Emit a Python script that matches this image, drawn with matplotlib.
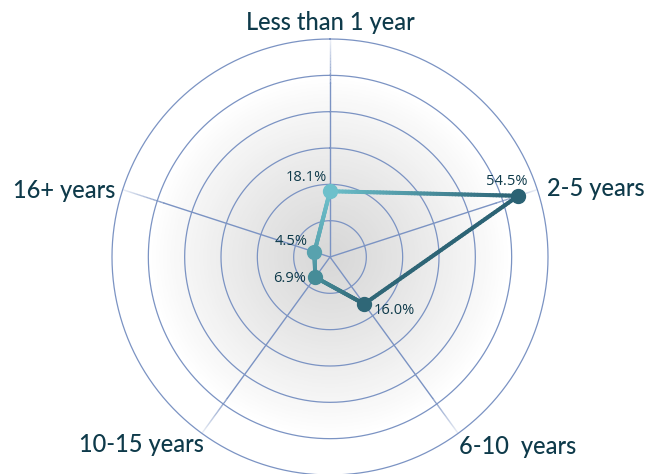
import numpy as np
import matplotlib
matplotlib.use("Agg")
import matplotlib.pyplot as plt
from matplotlib.collections import LineCollection
from matplotlib.colors import to_rgb

# ---- data ----
categories = ["Less than 1 year", "2-5 years", "6-10  years", "10-15 years", "16+ years"]
values = [18.1, 54.5, 16.0, 6.9, 4.5]
value_labels = ["18.1%", "54.5%", "16.0%", "6.9%", "4.5%"]
point_colors = ["#6dc0cb", "#2b6274", "#2f6777", "#468c98", "#58a2ae"]
ring_values = [10, 20, 30, 40, 50, 60]
r_max = 60

# ---- styles ----
grid_color = "#7b93c3"
text_color = "#0e3a4a"
cat_font = "Lato"
num_font = "Open Sans"

W, H = 649, 474
fig = plt.figure(figsize=(W / 100, H / 100), dpi=100)
fig.patch.set_facecolor("white")
cx, cy, R = 330, 257, 218
ax = fig.add_axes([(cx - R) / W, (H - cy - R) / H, 2 * R / W, 2 * R / H],
                  projection="polar")
ax.set_theta_zero_location("N")
ax.set_theta_direction(-1)
ax.set_ylim(0, r_max)
ax.set_axis_off()
ax.patch.set_alpha(0)

n = len(categories)
angles = np.arange(n) * 2 * np.pi / n

# radial gray background
th_bg = np.linspace(0, 2 * np.pi, 181)
r_bg = np.linspace(0, r_max, 121)
TH, RR = np.meshgrid(th_bg, r_bg)
g = 0.845 + 0.155 * np.clip(RR / 50.0, 0, 1) ** 1.2
ax.pcolormesh(TH, RR, g[:-1, :-1], cmap="gray", vmin=0, vmax=1,
              shading="flat", zorder=0, antialiased=False)

# rings
th_fine = np.linspace(0, 2 * np.pi, 721)
for rv in ring_values:
    ax.plot(th_fine, np.full_like(th_fine, rv), color=grid_color, lw=0.9,
            zorder=1, clip_on=False)

# spokes (solid inside, fading toward outer ring)
gc = np.array(to_rgb(grid_color))
for a in angles:
    ax.plot([a, a], [0, 48], color=grid_color, lw=1.0, zorder=1)
    rs = np.linspace(48, r_max, 30)
    segs = [[(a, rs[i]), (a, rs[i + 1])] for i in range(len(rs) - 1)]
    alphas = np.linspace(1, 0.15, len(segs))
    cols = [(*gc, al) for al in alphas]
    ax.add_collection(LineCollection(segs, colors=cols, lw=1.0, zorder=1))

# series line with per-segment gradient
xs = [v * np.sin(a) for v, a in zip(values, angles)]
ys = [v * np.cos(a) for v, a in zip(values, angles)]
segs, cols = [], []
steps = 60
for i in range(n):
    j = (i + 1) % n
    c0 = np.array(to_rgb(point_colors[i]))
    c1 = np.array(to_rgb(point_colors[j]))
    t = np.linspace(0, 1, steps + 1)
    px = xs[i] + (xs[j] - xs[i]) * t
    py = ys[i] + (ys[j] - ys[i]) * t
    pth = np.arctan2(px, py)
    pr = np.hypot(px, py)
    for k in range(steps):
        segs.append([(pth[k], pr[k]), (pth[k + 1], pr[k + 1])])
        tm = (k + 0.5) / steps
        cols.append(tuple(c0 + (c1 - c0) * tm))
ax.add_collection(LineCollection(segs, colors=cols, lw=2.9, zorder=3,
                                 capstyle="round", joinstyle="round"))

for a, v, c in zip(angles, values, point_colors):
    ax.plot([a], [v], "o", ms=10, color=c, mec=c, zorder=4)

# data labels (offsets in pixels)
label_offsets = [(-3, 14, "right"), (-12, 14, "center"), (10, -6, "left"),
                 (-9, -1, "right"), (-7, 10, "right")]
for a, v, lab, (dx, dy, ha) in zip(angles, values, value_labels, label_offsets):
    ax.annotate(lab, (a, v), xytext=(dx * 0.72, dy * 0.72), textcoords="offset points",
                ha=ha, va="center", fontsize=10.5, color=text_color,
                family=[num_font, "DejaVu Sans"], zorder=5)

# category labels, pixel offsets from the chart centre
cat_px = [(0, -235), (217, -68), (129, 190), (-126, 188), (-215, -67)]
cat_ha = ["center", "left", "left", "right", "right"]
for a, lab, (px_, py_), ha in zip(angles, categories, cat_px, cat_ha):
    ax.annotate(lab, (0, 0), xytext=(px_ * 0.72, -py_ * 0.72), textcoords="offset points",
                ha=ha, va="center", fontsize=17, color=text_color, fontweight=500,
                family=[cat_font, "DejaVu Sans"], annotation_clip=False)

fig.savefig("out.png", dpi=100, facecolor="white")
